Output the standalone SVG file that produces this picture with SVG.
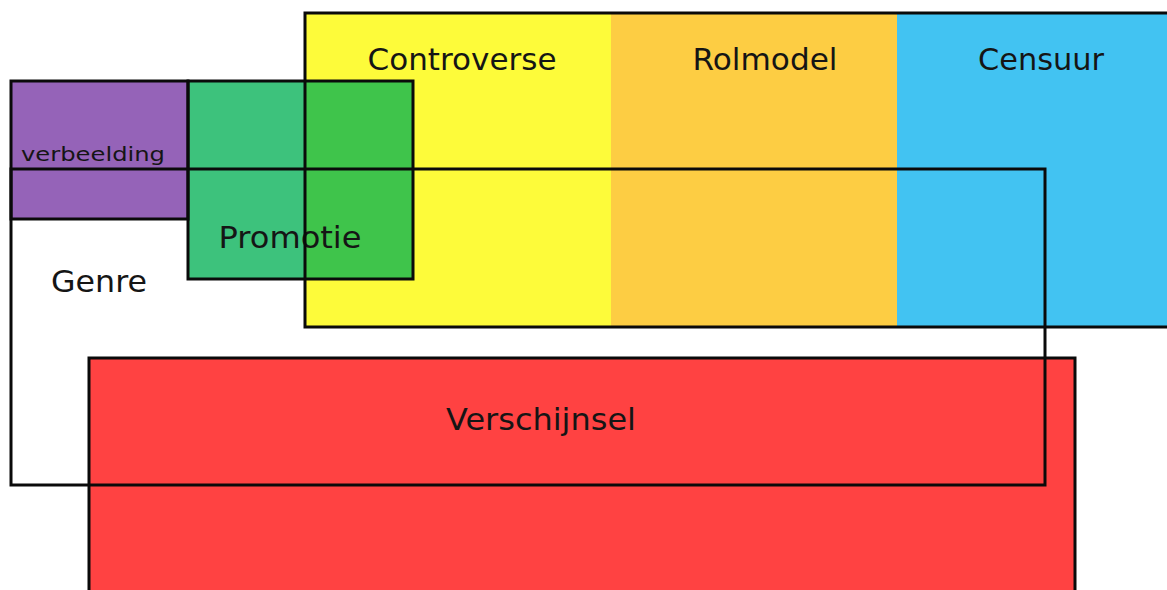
<svg xmlns="http://www.w3.org/2000/svg" width="1167" height="590" viewBox="0 0 1167 590">
  <style>
    .lbl { font-family: "DejaVu Sans", "Liberation Sans", sans-serif; fill: #151515; text-anchor: middle; }
    .big { font-size: 31px; }
    .small { font-size: 20px; }
    .edge { fill: none; stroke: #0a0a0a; stroke-width: 3; }
  </style>
  <rect width="1167" height="590" fill="#ffffff"/>

  <!-- fills -->
  <g id="fills">
    <rect x="305" y="13" width="306" height="314" fill="#fdfb3a"/>
    <rect x="611" y="13" width="286" height="314" fill="#fdcd43"/>
    <rect x="897" y="13" width="272" height="314" fill="#42c3f2"/>
    <rect x="11" y="81" width="177" height="138" fill="#9563b8"/>
    <rect x="188" y="81" width="117" height="198" fill="#3dc27c"/>
    <rect x="305" y="81" width="108" height="198" fill="#3fc44b"/>
    <rect x="89" y="358" width="986" height="240" fill="#ff4242"/>
  </g>

  <!-- labels -->
  <g id="labels">
    <text class="lbl big" x="462" y="70" textLength="189" lengthAdjust="spacingAndGlyphs">Controverse</text>
    <text class="lbl big" x="765" y="70" textLength="145" lengthAdjust="spacingAndGlyphs">Rolmodel</text>
    <text class="lbl big" x="1041" y="70" textLength="126" lengthAdjust="spacingAndGlyphs">Censuur</text>
    <text class="lbl small" x="93" y="161" textLength="144" lengthAdjust="spacingAndGlyphs">verbeelding</text>
    <text class="lbl big" x="290" y="248" textLength="143" lengthAdjust="spacingAndGlyphs">Promotie</text>
    <text class="lbl big" x="99" y="292" textLength="96" lengthAdjust="spacingAndGlyphs">Genre</text>
    <text class="lbl big" x="541" y="430" textLength="190" lengthAdjust="spacingAndGlyphs">Verschijnsel</text>
  </g>

  <!-- outlines -->
  <g id="outlines">
    <g id="top-block"><rect class="edge" x="305" y="13" width="870" height="314"/></g>
    <g id="verbeelding"><rect class="edge" x="11" y="81" width="177" height="138"/></g>
    <g id="promotie"><rect class="edge" x="188" y="81" width="225" height="198"/></g>
    <g id="verschijnsel"><rect class="edge" x="89" y="358" width="986" height="240"/></g>
    <g id="genre"><rect class="edge" x="11" y="169" width="1034" height="316"/></g>
  </g>
</svg>
